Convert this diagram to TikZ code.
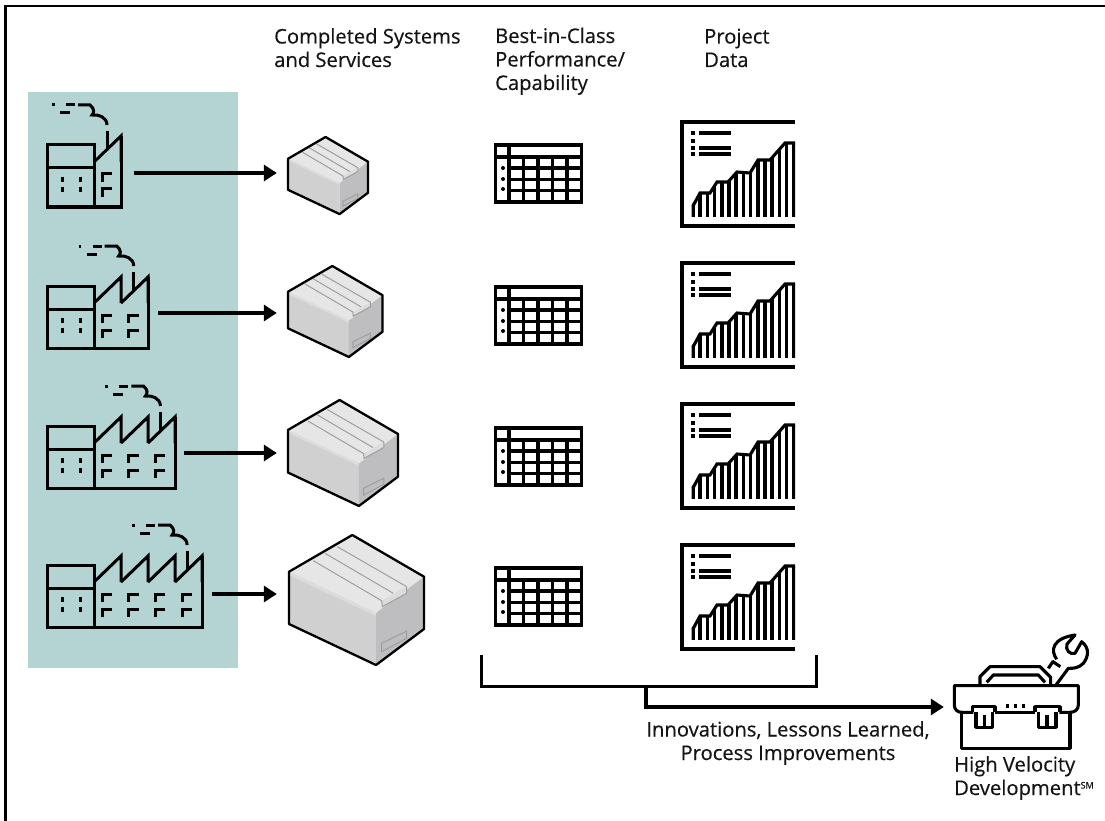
\documentclass[tikz,border=0pt]{standalone}
\usepackage{fontspec}
\setmainfont{Open Sans}[FakeBold=0.4]
\usetikzlibrary{arrows.meta}
\definecolor{tealbg}{HTML}{B3D4D3}
\definecolor{boxtop}{HTML}{E6E6E6}
\definecolor{boxleft}{HTML}{D0D0D0}
\definecolor{boxright}{HTML}{BEBEC0}
\definecolor{boxband}{HTML}{DCDCDC}
\definecolor{boxline}{HTML}{9E9EA0}
\definecolor{inkc}{HTML}{141414}
\tikzset{
  icon/.style={line width=3.1pt,black,line cap=butt,line join=miter},
  facticon/.style={line width=3pt,black,line cap=butt,line join=miter},
  flow/.style={line width=3.2pt,black,-{Triangle[length=13pt,width=16pt]}},
  bracket/.style={line width=3pt,black},
  frameline/.style={line width=2.2pt,black},
  tape/.style={line width=1pt,boxline},
  outline/.style={line width=2.3pt,black,line join=round},
  lab/.style={inner sep=0pt,anchor=base west,align=left,text=inkc,font=\fontsize{20.2}{23.5}\selectfont},
  labc/.style={inner sep=0pt,anchor=base,align=center,text=inkc,font=\fontsize{20.2}{23.5}\selectfont},
  endpt/.style={inner sep=0pt,minimum size=0pt},
}
% #1 teeth, #2 top y
\newcommand{\factoryicon}[2]{%
 \begin{scope}[shift={(0,#2)},facticon]
  \draw (47,0) rectangle (94,62);
  \draw (47,23) -- (94,23);
  \foreach \xx in {62,80}{\draw (\xx,32) -- (\xx,37); \draw (\xx,42) -- (\xx,47);}
  \foreach \k in {1,...,#1}{
    \pgfmathsetmacro{\xa}{94+27*\k}
    \pgfmathsetmacro{\xb}{94+27*(\k-1)}
    \draw (\xb,17) -- (\xa,-9) -- (\xa,17);
  }
  \pgfmathsetmacro{\xend}{94+27*#1}
  \draw (\xend,-9) -- (\xend,62) -- (94,62);
  \foreach \k in {1,...,#1}{
    \pgfmathsetmacro{\xw}{102+26.7*(\k-1)}
    \draw (\xw+10,29) -- (\xw,29) -- (\xw,37);
    \draw (\xw+10,44) -- (\xw,44) -- (\xw,52);
  }
  \pgfmathsetmacro{\sx}{26.7*(#1-1)}
  \begin{scope}[shift={(\sx,0)}]
   \draw (52,-40) -- (54.5,-40);
   \draw (66,-40) -- (75,-40);
   \draw (60,-32) -- (70,-32);
   \draw (78,-40) -- (90,-40) .. controls (95,-36) and (94,-32) .. (92,-30)
      .. controls (98,-31) and (107,-28) .. (107,-20);
   \draw (107,-14) -- (107,5);
  \end{scope}
 \end{scope}}
% #1 x, #2 y, #3 scale
\newcommand{\boxicon}[3]{%
 \begin{scope}[shift={(#1,#2)},scale=#3]
  \fill[boxtop] (63.3,0) -- (0,36.7) -- (87,78) -- (135,41.7) -- cycle;
  \fill[boxleft] (0,36.7) -- (87,78) -- (87,130) -- (0,89) -- cycle;
  \fill[boxband] (0,36.7) -- (87,78) -- (87,81) -- (0,40) -- cycle;
  \fill[boxright] (87,78) -- (135,41.7) -- (135,94) -- (87,130) -- cycle;
  \fill[boxband] (92.7,65.7) -- (93.3,71.7) -- (117.7,58.3) -- (117.7,51.7) -- cycle;
  \draw[tape] (24.3,25.7) -- (92.7,65.7) -- (93.3,71.7) -- (117.7,58.3) -- (117.7,51.7) -- (48.3,11.7);
  \draw[tape] (36,18.3) -- (104.3,58.3);
  \draw[tape] (92.7,108.3) -- (92.7,116.7) -- (117.7,103.3) -- (117.7,96) -- cycle;
  \draw[outline] (63.3,0) -- (135,41.7) -- (135,94) -- (87,130) -- (0,89) -- (0,36.7) -- cycle;
 \end{scope}}
% #1 top y
\newcommand{\tableicon}[1]{%
 \begin{scope}[shift={(0,#1)},icon]
  \draw (495.5,0) rectangle (581.5,57);
  \draw (495.5,12) -- (581.5,12);
  \foreach \yy in {23,34.5,45.5}{\draw (509,\yy) -- (581.5,\yy);}
  \draw (509,0) -- (509,57);
  \foreach \xx in {523.3,538,552.3,567}{\draw (\xx,12) -- (\xx,57);}
  \foreach \yy in {23,34,44}{\fill (503,\yy) circle (2pt);}
 \end{scope}}
% #1 top y
\newcommand{\charticon}[1]{%
 \begin{scope}[shift={(0,#1)},icon]
  \draw (795,0) -- (682,0) -- (682,104) -- (795,104);
  \foreach \yy in {11,19,26,32}{\fill (691,\yy-1.8) rectangle (695,\yy+1.8);}
  \foreach \yy in {11,26,32}{\draw (699,\yy) -- (731,\yy);}
  \begin{scope}
   \clip (691.5,83) -- (700,71) -- (710,71) -- (717,60) -- (728,60) -- (737,50) -- (750,51) -- (758,38) -- (770,38) -- (785,21) -- (795,21) -- (795,95) -- (691.5,95) -- cycle;
   \foreach \k in {0,...,14}{\draw[line width=3.6pt] (693+7.2*\k,15) -- (693+7.2*\k,95);}
  \end{scope}
  \draw (693,84) -- (700,71) -- (710,71) -- (717,60) -- (728,60) -- (737,50) -- (750,51) -- (758,38) -- (770,38) -- (785,21) -- (795,21);
 \end{scope}}
\begin{document}
\begin{tikzpicture}[x=1pt,y=-1pt]
\useasboundingbox (0,0) rectangle (1105,821);
\fill[white] (0,0) rectangle (1105,821);
\draw[frameline] (1105,6) -- (5.5,6) -- (5.5,821);
\fill[tealbg] (28,92) rectangle (238,668);

\factoryicon{1}{145}
\factoryicon{2}{286}
\factoryicon{3}{426}
\factoryicon{4}{565}
\boxicon{288}{137}{0.593}
\boxicon{288}{266}{0.70}
\boxicon{288}{400}{0.815}
\boxicon{289}{535}{1}
\foreach \yy in {145,287,428,568}{\tableicon{\yy}}
\foreach \yy in {122,263,404,545}{\charticon{\yy}}

\node[endpt] (f1) at (134,173) {};
\node[endpt] (b1) at (277,173) {};
\node[endpt] (f2) at (158,313) {};
\node[endpt] (b2) at (277,313) {};
\node[endpt] (f3) at (184,453) {};
\node[endpt] (b3) at (277,453) {};
\node[endpt] (f4) at (212,594) {};
\node[endpt] (b4) at (277,594) {};
\draw[flow] (f1) -- (b1);
\draw[flow] (f2) -- (b2);
\draw[flow] (f3) -- (b3);
\draw[flow] (f4) -- (b4);

\node[endpt] (brL) at (481,655) {};
\node[endpt] (brR) at (816,655) {};
\node[endpt] (brM) at (646,686) {};
\node[endpt] (tool) at (944,707) {};
\draw[bracket] (brL) -- (481,686) -- (816,686) -- (brR);
\draw[flow] (brM) |- (tool);

% toolbox
\begin{scope}[shift={(950,650)},scale=1/3,icon,line join=round]
 \draw (70,187) -- (35,187) .. controls (22,187) and (13,178) .. (13,165) -- (13,107) -- (385,107) -- (385,165) .. controls (385,178) and (375,187) .. (360,187) -- (328,187);
 \draw (135,187) -- (255,187);
 \draw (35,187) -- (35,295) -- (360,295) -- (360,187);
 \draw (68,187) -- (68,170) -- (135,170) -- (135,187);
 \draw (255,187) -- (255,170) -- (330,170) -- (330,187);
 \draw (78,187) -- (78,232) -- (128,232) -- (128,187) (103,195) -- (103,232);
 \draw (265,187) -- (265,232) -- (318,232) -- (318,187) (291,195) -- (291,232);
 \draw (90,107) -- (90,80) -- (120,50) -- (270,50) -- (302,82) -- (302,107);
 \draw (110,97) -- (130,75) -- (265,75) -- (285,97);
 \foreach \xx in {172,196,220}{\fill (\xx-5,163) rectangle (\xx+5,173);}
\end{scope}
\begin{scope}[shift={(1020,600)},scale=1/3,icon,line join=round]
 \draw (85,205) -- (100,183);
 \draw (97,184) -- (121,200);
 \draw (110,178) .. controls (90,150) and (98,115) .. (165,105) -- (141,132) .. controls (135,150) and (150,165) .. (165,160) -- (185,125) .. controls (210,145) and (205,170) .. (190,190) .. controls (175,205) and (160,205) .. (145,205) -- (108,255);
\end{scope}

\node[lab] (t1) at (274,67) {Completed Systems\\and Services};
\node[lab] (t2) at (495,90) {Best-in-Class\\Performance/\\Capability};
\node[lab] (t3) at (704,67) {Project\\Data};
\node[labc] (t4) at (788,760) {Innovations, Lessons Learned,\\Process Improvements};
\node[lab] (t5) at (954,795) {High Velocity\\Development\raisebox{0.6ex}{\fontsize{9}{9}\selectfont SM}};
\end{tikzpicture}
\end{document}
